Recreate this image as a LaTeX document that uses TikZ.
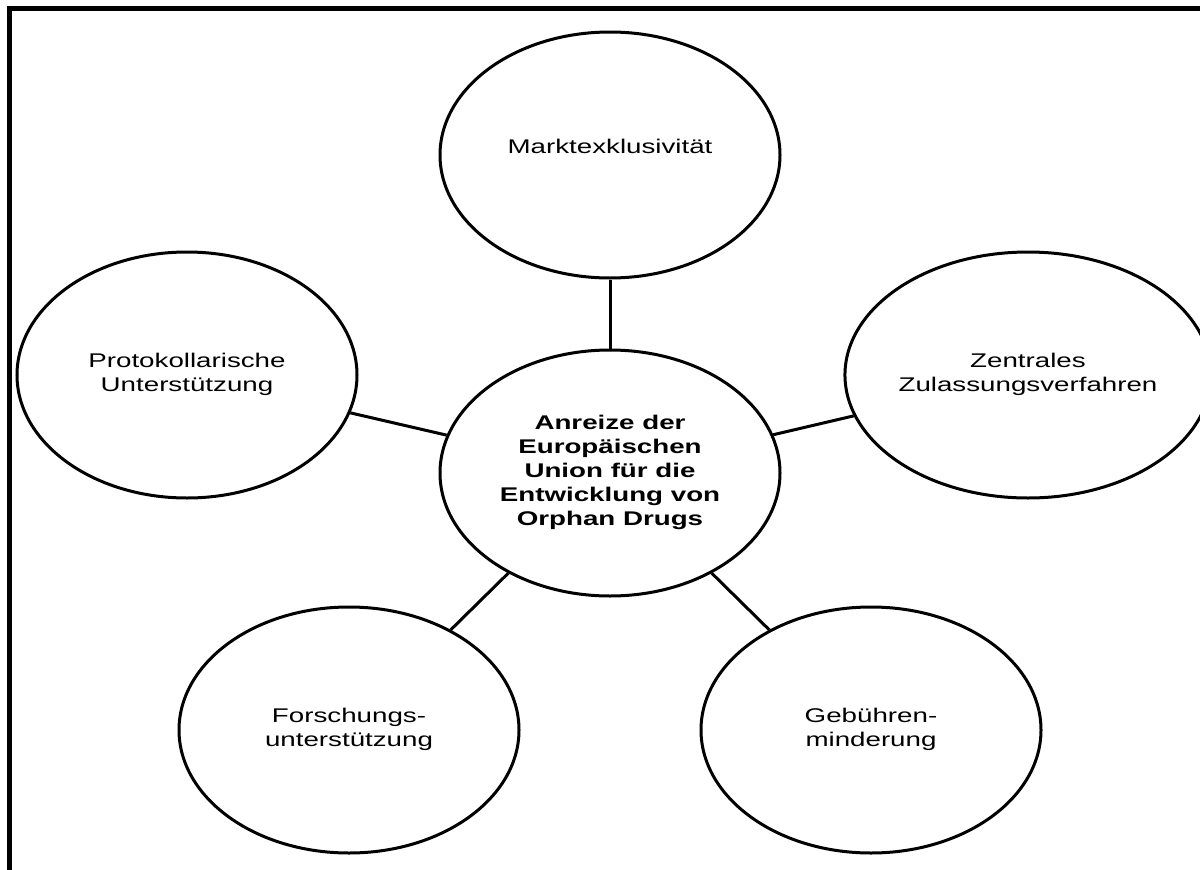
\documentclass[tikz,border=0pt]{standalone}
\usepackage{fontspec}
\usepackage{graphicx}
\setmainfont{Liberation Sans}
\usetikzlibrary{shapes.geometric}
\newcommand{\sx}[1]{\scalebox{1.4}[1]{\begin{tabular}{@{}c@{}}#1\end{tabular}}}
\tikzset{
  oval/.style={ellipse, draw=black, line width=3pt, minimum width=340pt, minimum height=246pt,
    inner sep=0pt, fill=white, font=\fontsize{19.8}{24}\selectfont},
  hub/.style={oval, font=\fontsize{19.8}{24}\selectfont\bfseries},
  conn/.style={draw=black, line width=3pt},
  frame/.style={draw=black, line width=5pt}
}
\begin{document}
\begin{tikzpicture}[x=1pt,y=-1pt]
\useasboundingbox (0,0) rectangle (1200,870);
\coordinate (fa) at (9.5,870);
\coordinate (fb) at (9.5,8.5);
\coordinate (fc) at (1200,8.5);
\draw[frame] (fa) -- (fb) -- (fc);
\node[hub] (c) at (610,473) {\sx{Anreize der\\Europäischen\\Union für die\\Entwicklung von\\Orphan Drugs}};
\node[oval] (m) at (610,155) {\sx{Marktexklusivität\rule[-20pt]{0pt}{20pt}}};
\node[oval] (p) at (187,375) {\sx{Protokollarische\\Unterstützung}};
\node[oval] (z) at (1028,375) {\sx{Zentrales\\Zulassungsverfahren}};
\node[oval] (f) at (349,730) {\sx{Forschungs-\\unterstützung}};
\node[oval] (g) at (871,730) {\sx{Gebühren-\\minderung}};
\draw[conn] (c) -- (m);
\draw[conn] (c) -- (p);
\draw[conn] (c) -- (z);
\draw[conn] (c) -- (f);
\draw[conn] (c) -- (g);
\end{tikzpicture}
\end{document}
